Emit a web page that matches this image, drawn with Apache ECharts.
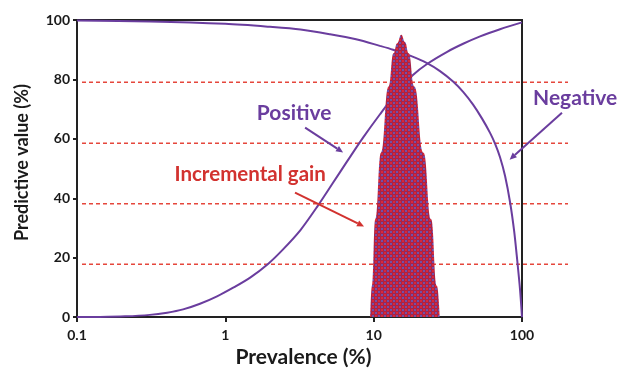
<!DOCTYPE html>
<html>
<head>
<meta charset="utf-8">
<script src="https://cdn.jsdelivr.net/npm/echarts@6/dist/echarts.min.js"></script>
<style>
  html, body { margin: 0; padding: 0; background: #fff; }
  #chart { width: 617px; height: 373px; }
</style>
</head>
<body>
<div id="chart"></div>
<script>
// Prevalence (%) on a log axis; predictive values (%) for each curve.
const positivePrevalence = [0.1, 0.143, 0.211, 0.31, 0.405, 0.519, 0.675, 0.879, 1.13, 1.47, 1.94, 2.45, 3.21, 4.22, 5.32, 6.62, 8.48, 11.0, 14.4, 18.4, 22.9, 31.3, 40.1, 52.2, 71.1, 100];
const positiveValues     = [0,   0.05,  0.25,  0.75, 1.5,   2.6,   4.5,   7.0,   9.9,  13.3, 17.9, 22.8, 29.3, 37.6, 45.2, 52.4, 60.4, 68.2, 75.8, 81.5, 85.2, 89.3, 92.0, 94.5, 96.9, 99.2];

const negativePrevalence = [0.1,  0.31, 1.0,  2.0,  3.21, 5.08, 7.61, 11.0, 13.5, 17.6, 22.9, 28.0, 34.3, 40.1, 46.8, 53.8, 60.9, 65.9, 71.1, 76.9, 83.2, 88.5, 92.7, 97.1, 100];
const negativeValues     = [99.8, 99.5, 98.7, 97.7, 96.8, 95.2, 93.5, 91.3, 90,   88,   85.5, 82.8, 79.3, 75.8, 71.5, 66.8, 62,   58.3, 53.8, 47.5, 38.5, 29,   19.5, 9,    0];

// Incremental gain region between the curves
const gainPrevalence = [9.48, 9.74, 10.25, 11.2, 12.6, 13.6, 14.4, 15.35, 16.3, 17.2, 18.8, 21.7, 24.4, 26.7, 27.9];
const gainValues     = [0,    10.5, 32.9,  55.3, 77.6, 88.8, 92.2, 95,    92.5, 88.8, 77.6, 55.3, 32.9, 10.5, 0];

// Dashed reference levels
const referenceLevels = [79.1, 58.6, 38.3, 18.0];

// Axis ticks
const xTicks = [0.1, 1, 10, 100];
const yTicks = [0, 20, 40, 60, 80, 100];

// Text callouts with arrows, in (prevalence, value) coordinates
const callouts = [
  { text: 'Positive',         at: [2.91, 68.5], from: [3.45, 63.8], to: [6.22, 55.4], kind: 'purple', size: 21 },
  { text: 'Negative',         at: [228, 73.8],  from: [186, 68.8],  to: [82.5, 53.0], kind: 'purple', size: 21 },
  { text: 'Incremental gain', at: [1.47, 48.0], from: [2.95, 41.9], to: [8.61, 30.5], kind: 'red',    size: 20.5 }
];

const PURPLE = '#6a3d9e';
const RED = '#d2322f';
const DASH = '#e5473c';
const FONT = 'Lato, "Open Sans", sans-serif';

const zip = (xs, ys) => xs.map((x, i) => [x, ys[i]]);

// Red fill sprinkled with purple dots
function dotPattern() {
  const c = document.createElement('canvas');
  c.width = 6; c.height = 6;
  const g = c.getContext('2d');
  g.fillStyle = '#a82248';
  g.fillRect(0, 0, 6, 6);
  g.fillStyle = '#d9283a';
  g.fillRect(0, 0, 2, 2);
  g.fillRect(3, 3, 2, 2);
  g.fillStyle = '#7150ab';
  g.fillRect(3, 0, 2, 2);
  g.fillRect(0, 3, 2, 2);
  return c;
}

const chart = echarts.init(document.getElementById('chart'), null, { renderer: 'canvas' });

const option = {
  animation: false,
  backgroundColor: '#fff',
  textStyle: { fontFamily: FONT },
  grid: [
    { left: 77, right: 95, top: 20, bottom: 55, show: true, borderColor: '#222', borderWidth: 2, backgroundColor: 'transparent' },
    { left: 82, right: 49, top: 20, bottom: 55, show: false }
  ],
  xAxis: [
    {
      type: 'log', logBase: 10, min: 0.1, max: 100, gridIndex: 0,
      name: 'Prevalence (%)', nameLocation: 'middle', nameGap: 28,
      nameTextStyle: { fontFamily: FONT, fontWeight: 'bold', fontSize: 21, color: '#1a1a1a', padding: [0, 0, 0, 8] },
      axisLine: { show: true, lineStyle: { color: '#222', width: 2 } },
      axisTick: { show: true, length: 5, lineStyle: { color: '#222', width: 2 } },
      minorTick: { show: false },
      splitLine: { show: false },
      axisLabel: {
        fontFamily: FONT, fontWeight: 'bold', fontSize: 14, color: '#1a1a1a', margin: 11,
        formatter: v => {
          const t = xTicks.find(k => Math.abs(k - v) / k < 1e-6);
          return t === undefined ? '' : String(t);
        }
      }
    },
    { type: 'value', min: 0, max: 1, gridIndex: 1, show: false }
  ],
  yAxis: [
    {
      type: 'value', min: 0, max: 100, interval: 20, gridIndex: 0,
      name: 'Predictive value (%)', nameLocation: 'middle', nameGap: 46,
      nameTextStyle: { fontFamily: FONT, fontWeight: 'bold', fontSize: 18, color: '#1a1a1a', padding: [0, 0, 0, 12] },
      axisLine: { show: true, lineStyle: { color: '#222', width: 2 } },
      axisTick: { show: true, length: 4, lineStyle: { color: '#222', width: 2 } },
      splitLine: { show: false },
      axisLabel: {
        fontFamily: FONT, fontWeight: 'bold', fontSize: 14, color: '#1a1a1a', margin: 7,
        formatter: v => (yTicks.includes(v) ? String(v) : '')
      }
    },
    { type: 'value', min: 0, max: 100, gridIndex: 1, show: false }
  ],
  series: [
    ...referenceLevels.map((lvl, i) => ({
      name: 'level' + i,
      type: 'line', xAxisIndex: 1, yAxisIndex: 1,
      data: [[0, lvl], [1, lvl]],
      symbol: 'none', silent: true, z: 1,
      lineStyle: { color: DASH, width: 1.5, type: [4, 3] }
    })),
    {
      name: 'Positive', type: 'line', xAxisIndex: 0, yAxisIndex: 0,
      data: zip(positivePrevalence, positiveValues),
      smooth: 0.3, symbol: 'none', z: 3,
      lineStyle: { color: PURPLE, width: 2 }
    },
    {
      name: 'Negative', type: 'line', xAxisIndex: 0, yAxisIndex: 0,
      data: zip(negativePrevalence, negativeValues),
      smooth: 0.3, symbol: 'none', z: 3,
      lineStyle: { color: PURPLE, width: 2 }
    },
    {
      name: 'Incremental gain', type: 'line', xAxisIndex: 0, yAxisIndex: 0,
      data: zip(gainPrevalence, gainValues),
      smooth: 0.5, smoothMonotone: 'x', symbol: 'none', z: 4,
      lineStyle: { width: 0 },
      areaStyle: { color: { image: dotPattern(), repeat: 'repeat' }, opacity: 1 }
    }
  ]
};

chart.setOption(option);

// Place callout texts and arrows through the chart's own coordinate system.
function toPx(pt) { return chart.convertToPixel({ gridIndex: 0 }, pt); }

const graphics = [];
callouts.forEach(c => {
  const color = c.kind === 'red' ? RED : PURPLE;
  const p = toPx(c.at);
  const a = toPx(c.from);
  const b = toPx(c.to);
  graphics.push({
    type: 'text', x: p[0], y: p[1], z: 10,
    style: { text: c.text, fill: color, font: 'bold ' + c.size + 'px ' + FONT, textAlign: 'center', textVerticalAlign: 'middle' }
  });
  const dx = b[0] - a[0], dy = b[1] - a[1];
  const len = Math.hypot(dx, dy);
  const ux = dx / len, uy = dy / len;
  const head = 7, half = 3.2;
  const bx = b[0] - ux * head, by = b[1] - uy * head;
  graphics.push({
    type: 'line', z: 10,
    shape: { x1: a[0], y1: a[1], x2: bx, y2: by },
    style: { stroke: color, lineWidth: 2 }
  });
  graphics.push({
    type: 'polygon', z: 10,
    shape: { points: [[b[0], b[1]], [bx - uy * half, by + ux * half], [bx + uy * half, by - ux * half]] },
    style: { fill: color }
  });
});

chart.setOption({ graphic: graphics });
</script>
</body>
</html>
